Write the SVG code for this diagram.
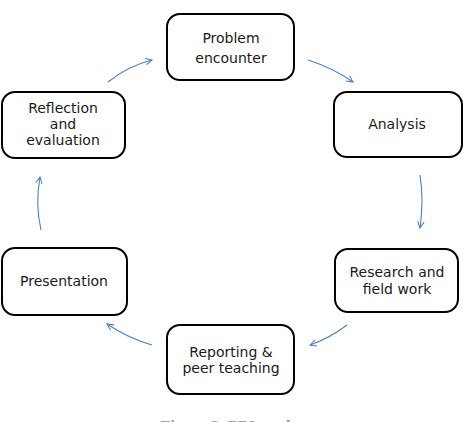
<svg xmlns="http://www.w3.org/2000/svg" width="467" height="422" viewBox="0 0 467 422">
<defs>
<style>
.box{fill:#fff;stroke:#000;stroke-width:2}
.lbl{font-family:"DejaVu Sans",sans-serif;font-size:14px;fill:#1a1a1a;text-anchor:middle}
.arr{fill:none;stroke:#4f7fc0;stroke-width:1.1;marker-end:url(#ah)}
.cap{font-family:"Liberation Serif",serif;font-size:12px;font-weight:bold;fill:#999}
</style>
<marker id="ah" viewBox="0 0 10 10" refX="9" refY="5" markerWidth="8" markerHeight="8" markerUnits="userSpaceOnUse" orient="auto">
<path d="M1,1 L9,5 L1,9" fill="none" stroke="#4f7fc0" stroke-width="1.3"/>
</marker>
</defs>
<rect width="467" height="422" fill="#fff"/>
<g id="problem">
<rect class="box" x="167" y="14" width="127" height="66" rx="13"/>
<text class="lbl" x="231" y="43">Problem</text>
<text class="lbl" x="231" y="63">encounter</text>
</g>
<g id="analysis">
<rect class="box" x="334" y="92" width="128" height="65" rx="13"/>
<text class="lbl" x="397" y="129">Analysis</text>
</g>
<g id="research">
<rect class="box" x="335" y="249" width="123" height="63" rx="13"/>
<text class="lbl" x="397" y="277">Research and</text>
<text class="lbl" x="397" y="294">field work</text>
</g>
<g id="reporting">
<rect class="box" x="167" y="325" width="127" height="69" rx="13"/>
<text class="lbl" x="231" y="357">Reporting &amp;</text>
<text class="lbl" x="231" y="373">peer teaching</text>
</g>
<g id="presentation">
<rect class="box" x="2" y="248" width="125" height="67" rx="13"/>
<text class="lbl" x="64" y="286">Presentation</text>
</g>
<g id="reflection">
<rect class="box" x="2" y="92" width="123" height="66" rx="13"/>
<text class="lbl" x="63" y="113">Reflection</text>
<text class="lbl" x="63" y="129">and</text>
<text class="lbl" x="63" y="145">evaluation</text>
</g>
<g id="connectors">
<path class="arr" d="M308,60 Q333,68 353,82"/>
<path class="arr" d="M420,175 Q424,200 420,228"/>
<path class="arr" d="M347,325 Q330,338 310,345"/>
<path class="arr" d="M152,345 Q128,338 107,324"/>
<path class="arr" d="M41,230 Q35,204 40,177"/>
<path class="arr" d="M108,82 Q128,66 152,60"/>
</g>
<text class="cap" x="160" y="429" textLength="138" lengthAdjust="spacingAndGlyphs">Figure 3. PBL cycle</text>
</svg>
